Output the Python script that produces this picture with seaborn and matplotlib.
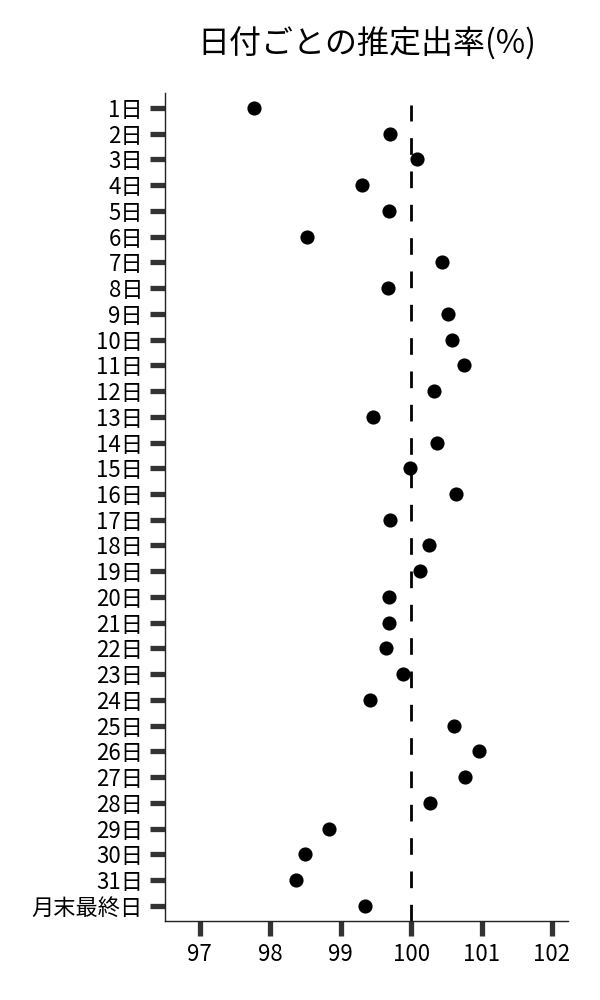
import matplotlib
matplotlib.use("Agg")
import matplotlib.pyplot as plt
import seaborn as sns
import pandas as pd

days = [f"{i}日" for i in range(1, 32)] + ["月末最終日"]
rates = [97.77, 99.70, 100.08, 99.30, 99.69, 98.52, 100.44, 99.67, 100.52, 100.58,
         100.75, 100.33, 99.46, 100.37, 99.99, 100.64, 99.70, 100.25, 100.12, 99.69,
         99.69, 99.65, 99.89, 99.41, 100.61, 100.97, 100.77, 100.27, 98.83, 98.50,
         98.36, 99.34]
xticks = [97, 98, 99, 100, 101, 102]

df = pd.DataFrame({"day": days, "rate": rates})

sns.set_style("ticks")
plt.rcParams['font.family'] = ['Noto Sans CJK JP', 'DejaVu Sans']
plt.rcParams['text.color'] = 'black'

fig = plt.figure(figsize=(6, 10), dpi=100)
ax = fig.add_axes([0.275, 0.079, 0.672, 0.828])

sns.stripplot(data=df, x="rate", y="day", order=days, orient="h", jitter=False,
              color="black", size=10.2, linewidth=0, ax=ax)

# 100% reference line
ax.axvline(100, ymin=0, ymax=0.986, color="black", lw=2, dashes=(6, 6))

ax.set_xlim(96.506, 102.23)
ax.set_ylim(31.59, -0.58)
ax.set_xticks(xticks)
ax.set_xticklabels([str(t) for t in xticks])
ax.set_xlabel("")
ax.set_ylabel("")
ax.tick_params(axis="both", length=10.8, width=3.8, color="#333333", labelsize=16,
               pad=5, labelcolor="black")
for s in ["left", "bottom"]:
    ax.spines[s].set_linewidth(1.0)
    ax.spines[s].set_color("#222222")
sns.despine(ax=ax)

ax.set_title("日付ごとの推定出率(%)", fontsize=23, pad=28, color="black")

plt.savefig("out.png", dpi=100)
